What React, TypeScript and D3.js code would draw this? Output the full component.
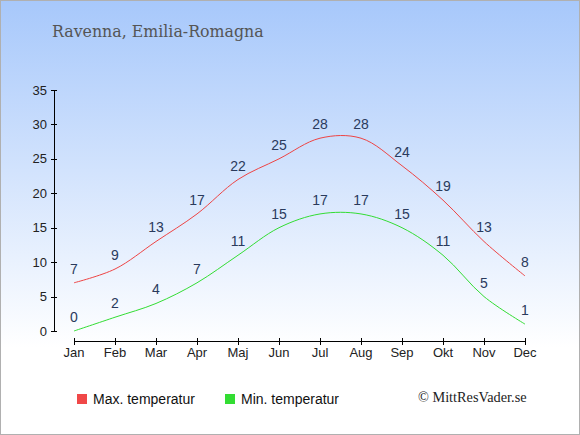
import React from "react";
import * as d3 from "d3";

const months = ["Jan", "Feb", "Mar", "Apr", "Maj", "Jun", "Jul", "Aug", "Sep", "Okt", "Nov", "Dec"];
const maxTemp = [7, 9, 13, 17, 22, 25, 28, 28, 24, 19, 13, 8];
const minTemp = [0, 2, 4, 7, 11, 15, 17, 17, 15, 11, 5, 1];
const yTicks = [0, 5, 10, 15, 20, 25, 30, 35];
const title = "Ravenna, Emilia-Romagna";
const seriesNames = ["Max. temperatur", "Min. temperatur"];
const seriesColors = ["#ee4444", "#33dd33"];
const legendColors = ["#f04848", "#33dd33"];

const W = 580;
const H = 435;

export default function App() {
  const x = d3.scalePoint<string>().domain(months).range([74, 525]);
  const y = d3.scaleLinear().domain([0, 35]).range([331, 90]);
  const line = d3
    .line<number>()
    .x((_, i) => x(months[i]) as number)
    .y((d) => y(d))
    .curve(d3.curveCatmullRom.alpha(0.5));
  const series = [maxTemp, minTemp];
  const sans = "'Liberation Sans', Arial, sans-serif";
  const serif = "'DejaVu Serif', serif";
  return (
    <svg
      width={W}
      height={H}
      style={{ position: "absolute", left: 0, top: 0 }}
    >
      <defs>
        <linearGradient id="bg" x1="0" y1="0" x2="0" y2="1">
          <stop offset="0" stopColor="#a7c8fb" />
          <stop offset="0.8" stopColor="#ffffff" />
          <stop offset="1" stopColor="#ffffff" />
        </linearGradient>
      </defs>
      <rect x={0.5} y={0.5} width={W - 1} height={H - 1} fill="url(#bg)" stroke="#b0b0b0" />
      <text x={52} y={37} fontFamily={serif} fontSize={15.8} fill="#555555">
        {title}
      </text>
      {/* y axis */}
      <line x1={54.5} x2={54.5} y1={y(35)} y2={y(0)} stroke="#000" />
      {yTicks.map((t) => (
        <g key={t}>
          <line x1={51} x2={57} y1={Math.round(y(t)) + 0.5} y2={Math.round(y(t)) + 0.5} stroke="#000" />
          <text x={47} y={y(t) + 4.5} textAnchor="end" fontFamily={sans} fontSize={13} fill="#222">
            {t}
          </text>
        </g>
      ))}
      {/* x axis */}
      <line x1={x("Jan")} x2={x("Dec")} y1={341.5} y2={341.5} stroke="#000" />
      {months.map((m) => (
        <g key={m}>
          <line x1={Math.round(x(m) as number) + 0.5} x2={Math.round(x(m) as number) + 0.5} y1={338} y2={345} stroke="#000" />
          <text x={x(m)} y={357} textAnchor="middle" fontFamily={sans} fontSize={13} fill="#222">
            {m}
          </text>
        </g>
      ))}
      {series.map((s, k) => (
        <g key={k}>
          <path d={line(s) || ""} fill="none" stroke={seriesColors[k]} strokeWidth={1} />
          {s.map((v, i) => (
            <text
              key={i}
              x={x(months[i])}
              y={y(v) - 9}
              textAnchor="middle"
              fontFamily={sans}
              fontSize={14}
              fill="#2a3a5c"
            >
              {v}
            </text>
          ))}
        </g>
      ))}
      {/* legend */}
      {seriesNames.map((n, k) => {
        const lx = k === 0 ? 77 : 225;
        return (
          <g key={n}>
            <rect x={lx} y={394} width={10} height={10} fill={legendColors[k]} />
            <text x={lx + 16} y={403.5} fontFamily={sans} fontSize={14} fill="#111">
              {n}
            </text>
          </g>
        );
      })}
      <text x={418} y={402} fontFamily="'Liberation Serif', 'Times New Roman', serif" fontSize={14.3} fill="#222">
        © MittResVader.se
      </text>
    </svg>
  );
}
